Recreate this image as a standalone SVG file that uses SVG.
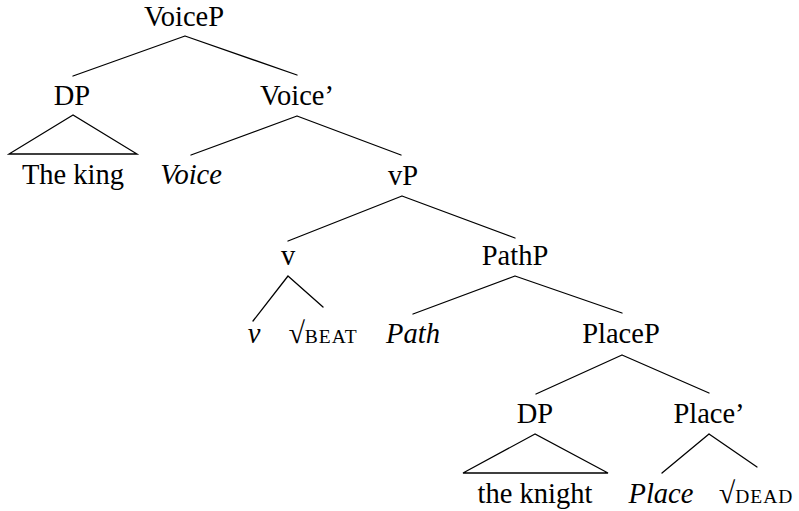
<svg xmlns="http://www.w3.org/2000/svg" width="799" height="511" viewBox="0 0 799 511">
  <style>
    text { font-family: "Liberation Serif", "DejaVu Serif", serif; font-size: 28.5px; fill: #000; text-anchor: middle; }
    .it { font-style: italic; }
    .rad { font-size: 30px; }
    .sc { font-size: 19.5px; letter-spacing: 1px; }
    .edge { stroke: #000; stroke-width: 1.3; fill: none; stroke-linecap: round; }
  </style>
  <rect width="799" height="511" fill="#fff"/>

  <!-- branches -->
  <g id="connectors">
    <path class="edge" d="M185,36 L73,76 M185,36 L297,75"/>
    <path class="edge" d="M73,115 L9,154 L137,154 Z"/>
    <path class="edge" d="M297,116 L191,155 M297,116 L401,155"/>
    <path class="edge" d="M402,196 L288,241 M402,196 L515,238"/>
    <path class="edge" d="M288,276 L253,321 M288,276 L323,307"/>
    <path class="edge" d="M515,276 L413,314 M515,276 L622,313"/>
    <path class="edge" d="M622,355 L536,394 M622,355 L709,393"/>
    <path class="edge" d="M535,434 L463,473 L608,473 Z"/>
    <path class="edge" d="M709,434 L662,473 M709,434 L757,467"/>
  </g>

  <g id="voicep"><text x="184" y="26">VoiceP</text></g>
  <g id="dp1"><text x="72" y="105">DP</text></g>
  <g id="theking"><text x="73" y="184">The king</text></g>
  <g id="voicebar"><text x="297" y="105">Voice’</text></g>
  <g id="voice"><text class="it" x="191" y="184">Voice</text></g>
  <g id="vp"><text x="403" y="185">vP</text></g>
  <g id="v"><text x="288" y="265">v</text></g>
  <g id="vhead"><text class="it" x="254" y="343">ν</text></g>
  <g id="beat"><text x="323" y="343"><tspan class="rad">√</tspan><tspan class="sc">BEAT</tspan></text></g>
  <g id="pathp"><text x="515" y="265">PathP</text></g>
  <g id="path"><text class="it" x="413" y="343">Path</text></g>
  <g id="placep"><text x="621" y="343">PlaceP</text></g>
  <g id="dp2"><text x="535" y="423">DP</text></g>
  <g id="theknight"><text x="535" y="503">the knight</text></g>
  <g id="placebar"><text x="709" y="423">Place’</text></g>
  <g id="place"><text class="it" x="661" y="503">Place</text></g>
  <g id="dead"><text x="756" y="503"><tspan class="rad">√</tspan><tspan class="sc">DEAD</tspan></text></g>
</svg>
